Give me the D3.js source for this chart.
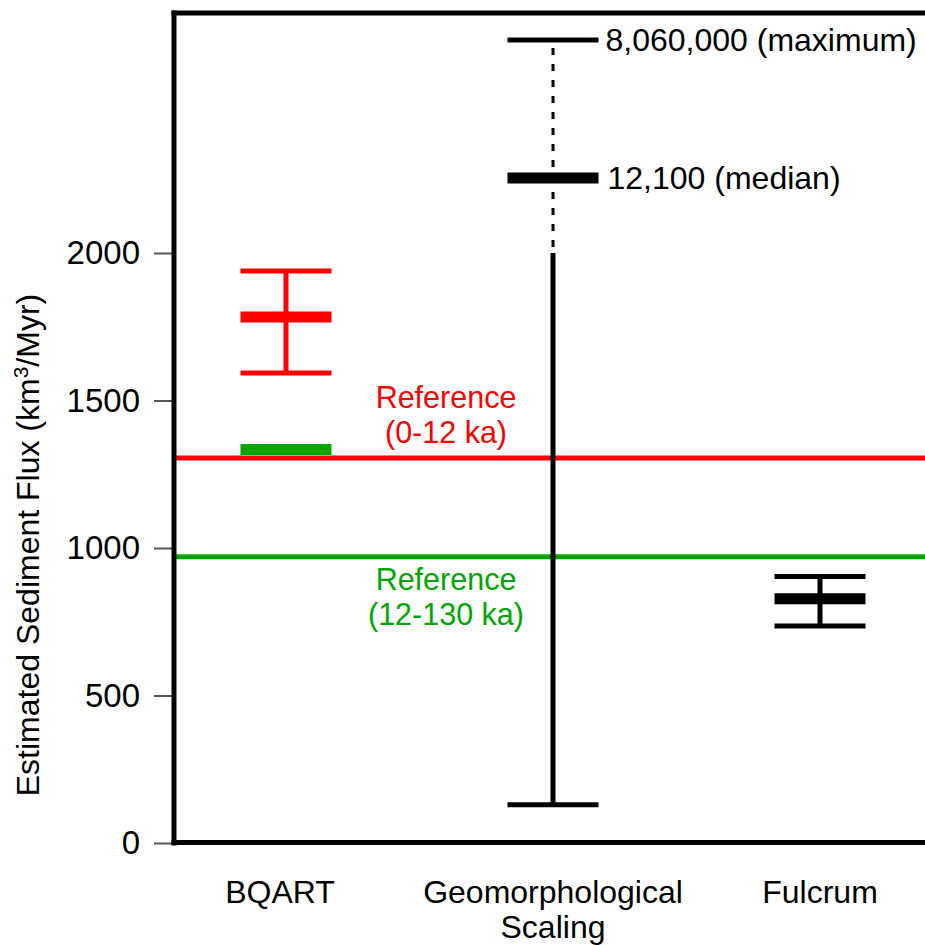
<!DOCTYPE html>
<html>
<head>
<meta charset="utf-8">
<script src="https://cdn.jsdelivr.net/npm/d3@7"></script>
<style>
    body { margin: 0; background: #fff; }
    svg { display: block; font-family: "Liberation Sans", Arial, sans-serif; }
</style>
</head>
<body>
<svg id="flux-chart" width="925" height="945"></svg>
<script>
const categories = ["BQART", "Geomorphological Scaling", "Fulcrum"];
const categoryLines = [["BQART"], ["Geomorphological", "Scaling"], ["Fulcrum"]];
const lowValues = [1593, 130, 736];
const medianValues = [1783, 12100, 828];
const highValues = [1939, 8060000, 903];
const barColors = ["#ff0000", "#000000", "#000000"];

// second BQART estimate (green bar)
const bqartGreenValue = 1334;

const referenceValues = [1305, 970];
const referenceColors = ["#ff0000", "#00a600"];
const referenceLabels = [["Reference", "(0-12 ka)"], ["Reference", "(12-130 ka)"]];

const yTicks = [0, 500, 1000, 1500, 2000];
const axisBreak = 2000;
const annotations = ["8,060,000 (maximum)", "12,100 (median)"];

const width = 925;
const height = 945;
const plotLeft = 174;
const plotTop = 13;
const plotBottom = 843;
const capHalf = 45.5;

const svg = d3.select("#flux-chart");

// linear up to 2000, compressed (broken) scale above
const yScale = d3.scaleLinear()
    .domain([0, axisBreak, 12100, 8060000])
    .range([plotBottom, 253, 178, 40]);

const xScale = d3.scalePoint()
    .domain(categories)
    .range([286, 820]);

// reference lines
referenceValues.forEach(function (v, i) {
    svg.append("line")
        .attr("x1", plotLeft).attr("x2", width + 5)
        .attr("y1", yScale(v)).attr("y2", yScale(v))
        .attr("stroke", referenceColors[i])
        .attr("stroke-width", 5);
});

// reference labels
const refOffsets = [[-50, -15], [33, 68]];
referenceLabels.forEach(function (lines, i) {
    lines.forEach(function (t, j) {
        svg.append("text")
            .attr("x", 446)
            .attr("y", yScale(referenceValues[i]) + refOffsets[i][j])
            .attr("text-anchor", "middle")
            .attr("fill", referenceColors[i])
            .style("font-size", "30.5px")
            .text(t);
    });
});

// range bars
categories.forEach(function (c, i) {
    const x = xScale(c);
    const color = barColors[i];
    const lo = lowValues[i];
    const hi = highValues[i];

    if (hi > axisBreak) {
        svg.append("line")
            .attr("x1", x).attr("x2", x)
            .attr("y1", yScale(lo)).attr("y2", yScale(axisBreak))
            .attr("stroke", color).attr("stroke-width", 5);
        svg.append("line")
            .attr("x1", x).attr("x2", x)
            .attr("y1", yScale(axisBreak) - 6).attr("y2", yScale(hi))
            .attr("stroke", color).attr("stroke-width", 3)
            .attr("stroke-dasharray", "7,9");
    } else {
        svg.append("line")
            .attr("x1", x).attr("x2", x)
            .attr("y1", yScale(lo)).attr("y2", yScale(hi))
            .attr("stroke", color).attr("stroke-width", 5);
    }

    [lo, hi].forEach(function (v) {
        svg.append("line")
            .attr("x1", x - capHalf).attr("x2", x + capHalf)
            .attr("y1", yScale(v)).attr("y2", yScale(v))
            .attr("stroke", color).attr("stroke-width", 5);
    });

    svg.append("line")
        .attr("x1", x - capHalf).attr("x2", x + capHalf)
        .attr("y1", yScale(medianValues[i])).attr("y2", yScale(medianValues[i]))
        .attr("stroke", color).attr("stroke-width", 11);
});

// green BQART bar
svg.append("line")
    .attr("x1", xScale("BQART") - capHalf).attr("x2", xScale("BQART") + capHalf)
    .attr("y1", yScale(bqartGreenValue)).attr("y2", yScale(bqartGreenValue))
    .attr("stroke", referenceColors[1]).attr("stroke-width", 11);

// annotations for off-scale values
const geoX = xScale("Geomorphological Scaling");
[highValues[1], medianValues[1]].forEach(function (v, i) {
    svg.append("text")
        .attr("x", geoX + capHalf + 7 + i * 2)
        .attr("y", yScale(v))
        .attr("dy", "0.35em")
        .style("font-size", "32px")
        .text(annotations[i]);
});

// y axis ticks
const yAxis = svg.append("g")
    .attr("transform", `translate(${plotLeft - 2}, 0)`)
    .call(d3.axisLeft(yScale).tickValues(yTicks).tickSize(18).tickPadding(14).tickFormat(d3.format("d")));
yAxis.select(".domain").remove();
yAxis.selectAll(".tick line").attr("stroke", "#555").attr("stroke-width", 2);
yAxis.selectAll(".tick text")
    .style("font-size", "33px")
    .style("font-family", "Liberation Sans, Arial, sans-serif")
    .attr("fill", "#000");

// frame
svg.append("line")
    .attr("x1", plotLeft).attr("x2", plotLeft)
    .attr("y1", plotTop - 2.5).attr("y2", plotBottom + 2.5)
    .attr("stroke", "#000").attr("stroke-width", 5);
svg.append("line")
    .attr("x1", plotLeft - 2.5).attr("x2", width + 5)
    .attr("y1", plotTop).attr("y2", plotTop)
    .attr("stroke", "#000").attr("stroke-width", 5);
svg.append("line")
    .attr("x1", plotLeft - 2.5).attr("x2", width + 5)
    .attr("y1", plotBottom - 0.5).attr("y2", plotBottom - 0.5)
    .attr("stroke", "#000").attr("stroke-width", 5);

// category labels
categoryLines.forEach(function (lines, i) {
    lines.forEach(function (t, j) {
        svg.append("text")
            .attr("x", i === 0 ? xScale(categories[i]) - 6 : xScale(categories[i]))
            .attr("y", 903 + j * 35)
            .attr("text-anchor", "middle")
            .style("font-size", "32px")
            .text(t);
    });
});

// y axis title
const yTitle = svg.append("text")
    .attr("transform", `translate(39, ${yScale(1000) - 3}) rotate(-90)`)
    .attr("text-anchor", "middle")
    .style("font-size", "32px");
yTitle.append("tspan").text("Estimated Sediment Flux (km");
yTitle.append("tspan").attr("dy", -11).style("font-size", "21px").text("3");
yTitle.append("tspan").attr("dy", 11).text("/Myr)");
</script>
</body>
</html>
